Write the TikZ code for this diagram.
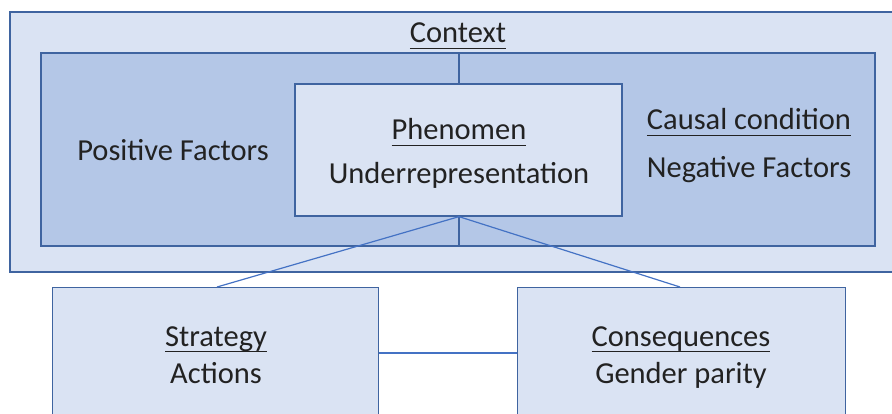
\documentclass[tikz,border=0pt]{standalone}
\usepackage{fontspec}
\setmainfont{Carlito}
\definecolor{paleblue}{HTML}{DAE3F3}
\definecolor{midblue}{HTML}{B4C7E7}
\definecolor{edgeblue}{HTML}{3F64A0}
\definecolor{linkblue}{HTML}{4472C4}
\definecolor{inktext}{HTML}{222222}
% underline drawn as a thicker bar below the baseline
\newcommand{\ulbar}[1]{\leavevmode\setbox0\hbox{#1}\rlap{\copy0}\raisebox{-6pt}{\rule{\wd0}{1.4pt}}}
\tikzset{
  panel/.style={draw=edgeblue, line width=1.3pt},
  label/.style={anchor=base, inner sep=0pt, text=inktext, font=\fontsize{30.5}{34}\selectfont},
  link/.style={draw=linkblue, line width=1.2pt},
}
\begin{document}
\begin{tikzpicture}[x=1pt, y=-1pt]
\useasboundingbox (0,0) rectangle (892,414);
\clip (0,0) rectangle (892,414);
% context frame and causal-condition band
\draw[panel, fill=paleblue] (10,12) rectangle (905,272);
\draw[panel, fill=midblue] (41,53) rectangle (875,246);
% phenomenon box
\node[panel, fill=paleblue, minimum width=327pt, minimum height=132pt, inner sep=0pt] (phen) at (458.5,150) {};
% lower boxes
\node[panel, fill=paleblue, minimum width=326pt, minimum height=150pt, inner sep=0pt, anchor=north west] (strat) at (52,287) {};
\node[panel, fill=paleblue, minimum width=328pt, minimum height=150pt, inner sep=0pt, anchor=north west] (cons) at (517,287) {};
% connectors
\coordinate (ctop) at (459,53);
\coordinate (cbot) at (459,246);
\coordinate (sTop) at (217,287);
\coordinate (cTop) at (680,287);
\draw[panel, line width=1.2pt] (ctop) -- (phen.north -| ctop);
\draw[panel, line width=1.2pt] (phen.south -| cbot) -- (cbot);
\draw[link] (phen.south -| cbot) -- (sTop);
\draw[link] (phen.south -| cbot) -- (cTop);
\draw[link] (strat.east |- 0,353) -- (cons.west |- 0,353);
% texts
\node[label] (tctx) at (458,43) {\ulbar{Context}};
\node[label] (tphen) at (459,140) {\ulbar{Phenomen}};
\node[label] (tunder) at (459,184) {Underrepresentation};
\node[label] (tpos) at (173,161) {Positive Factors};
\node[label] (tcaus) at (749,130) {\ulbar{Causal condition}};
\node[label] (tneg) at (749,178) {Negative Factors};
\node[label] (tstrat) at (216,346) {\ulbar{Strategy}};
\node[label] (tact) at (216,383) {Actions};
\node[label] (tcons) at (681,346) {\ulbar{Consequences}};
\node[label] (tgen) at (681,383) {Gender parity};
\end{tikzpicture}
\end{document}
